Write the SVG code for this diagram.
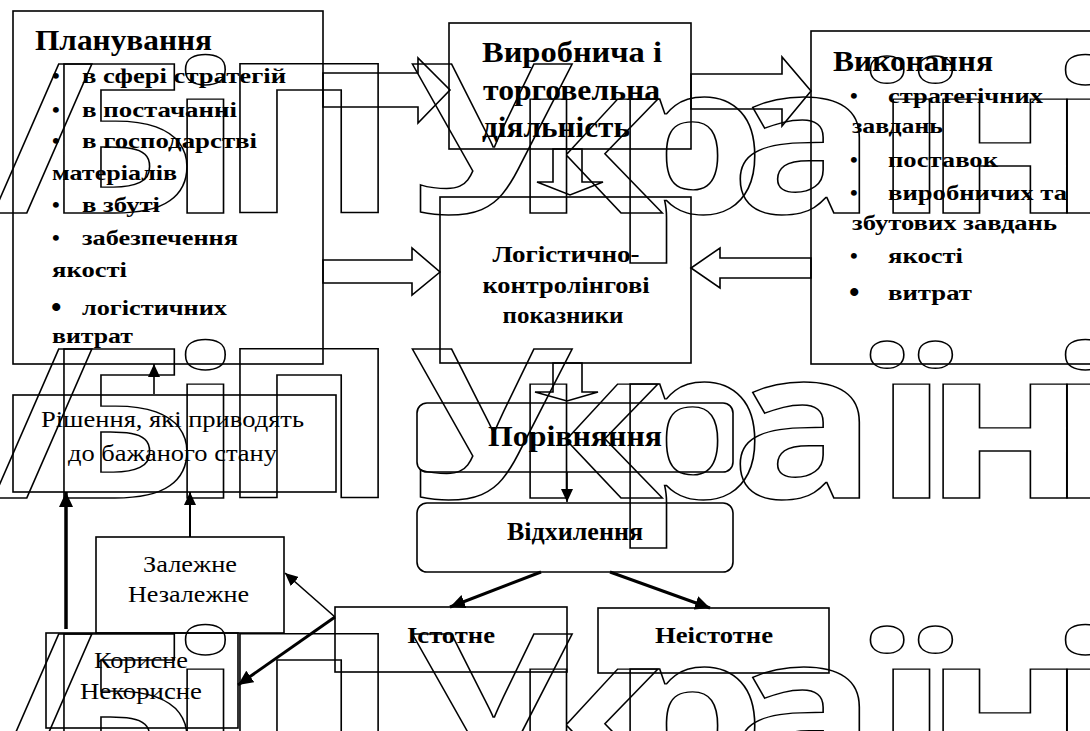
<svg xmlns="http://www.w3.org/2000/svg" width="1090" height="731" viewBox="0 0 1090 731">
<style>
.box{fill:none;stroke:#000;stroke-width:1.6}
.blk{fill:none;stroke:#000;stroke-width:1.6;stroke-linejoin:miter}
.b{font-family:"Liberation Serif","Times New Roman",serif;font-weight:bold;fill:#000}
.r{font-family:"Liberation Serif","Times New Roman",serif;fill:#000}
.wm{font-family:"Open Sans","DejaVu Sans",sans-serif;font-weight:700;font-size:209px;fill:none;stroke:#000;stroke-width:1.4}
.ln{stroke:#000;fill:none}
</style>
<defs>
<marker id="ah" markerUnits="userSpaceOnUse" markerWidth="16" markerHeight="14" refX="15" refY="7" orient="auto"><path d="M0,0 L15,7 L0,14 Z" fill="#000"/></marker>
<marker id="ahs" markerUnits="userSpaceOnUse" markerWidth="14" markerHeight="12" refX="13" refY="6" orient="auto"><path d="M0,0 L13,6 L0,12 Z" fill="#000"/></marker>
</defs>
<rect width="1090" height="731" fill="#fff"/>
<g id="watermark" transform="scale(1.17 1)">
<text class="wm" x="-6.8 35.9 143.6 186.3 307.7 350.4 436.8 522.2 623.9 747 789.7 895.7" y="213">/БіП Україні</text>
<text class="wm" x="-6.8 35.9 143.6 186.3 307.7 350.4 436.8 522.2 623.9 747 789.7 895.7" y="498">/БіП Україні</text>
<text class="wm" x="-6.8 35.9 143.6 186.3 307.7 350.4 436.8 522.2 623.9 747 789.7 895.7" y="783">/БіП Україні</text>
</g>
<g id="connectors">
<polygon class="blk" points="323,73 418,73 418,58 450,90 418,123 418,107 323,107"/>
<polygon class="blk" points="691,74 782,74 782,57 811,91 782,126 782,109 691,109"/>
<polygon class="blk" points="323,260 412,260 412,248 440,272 412,295 412,283 323,283"/>
<polygon class="blk" points="811,258 720,258 720,248 691,268 720,288 720,278 811,278"/>
<polygon class="blk" points="553,149 553,182 537,182 570,195 603,182 582,182 582,149"/>
<polygon class="blk" points="553,363 553,392 535,392 567,401 598,392 582,392 582,363"/>
<line class="ln" x1="567" y1="472" x2="567" y2="502" stroke-width="1.6" marker-end="url(#ahs)"/>
<line class="ln" x1="541" y1="572" x2="450" y2="607" stroke-width="3" marker-end="url(#ah)"/>
<line class="ln" x1="610" y1="572" x2="710" y2="608" stroke-width="3" marker-end="url(#ah)"/>
<line class="ln" x1="154" y1="394" x2="154" y2="364" stroke-width="1.6" marker-end="url(#ahs)"/>
<line class="ln" x1="190" y1="537" x2="190" y2="492" stroke-width="2" marker-end="url(#ahs)"/>
<line class="ln" x1="66" y1="629" x2="66" y2="492" stroke-width="3.5" marker-end="url(#ah)"/>
<line class="ln" x1="335" y1="617" x2="285" y2="573" stroke-width="1.6" marker-end="url(#ahs)"/>
<line class="ln" x1="335" y1="617" x2="238" y2="685" stroke-width="3" marker-end="url(#ah)"/>
</g>
<g id="planning">
<rect class="box" x="13" y="11" width="310" height="353"/>
<text class="b" x="35" y="50" font-size="29" textLength="177" lengthAdjust="spacingAndGlyphs">Планування</text>
<g font-size="22">
<text class="b" x="52" y="83">•</text><text class="b" x="82" y="83" textLength="204" lengthAdjust="spacingAndGlyphs">в сфері стратегій</text>
<text class="b" x="52" y="117">•</text><text class="b" x="82" y="117" textLength="155" lengthAdjust="spacingAndGlyphs">в постачанні</text>
<text class="b" x="52" y="148">•</text><text class="b" x="82" y="148" textLength="175" lengthAdjust="spacingAndGlyphs">в господарстві</text>
<text class="b" x="52" y="180" textLength="125" lengthAdjust="spacingAndGlyphs">матеріалів</text>
<text class="b" x="52" y="212">•</text><text class="b" x="82" y="212" textLength="78" lengthAdjust="spacingAndGlyphs">в збуті</text>
<text class="b" x="52" y="245">•</text><text class="b" x="82" y="245" textLength="156" lengthAdjust="spacingAndGlyphs">забезпечення</text>
<text class="b" x="52" y="277" textLength="75" lengthAdjust="spacingAndGlyphs">якості</text>
<text class="b" x="51" y="317" font-size="30">•</text><text class="b" x="82" y="315" textLength="145" lengthAdjust="spacingAndGlyphs">логістичних</text>
<text class="b" x="52" y="343" textLength="81" lengthAdjust="spacingAndGlyphs">витрат</text>
</g>
</g>
<g id="production">
<rect class="box" x="449" y="23" width="242" height="126"/>
<g class="b" font-size="29">
<text x="482" y="62" textLength="180" lengthAdjust="spacingAndGlyphs">Виробнича і</text>
<text x="483" y="100" textLength="177" lengthAdjust="spacingAndGlyphs">торговельна</text>
<text x="482" y="137" textLength="148" lengthAdjust="spacingAndGlyphs">діяльність</text>
</g>
</g>
<g id="execution">
<rect class="box" x="811" y="31" width="290" height="333"/>
<text class="b" x="833" y="71" font-size="29" textLength="160" lengthAdjust="spacingAndGlyphs">Виконання</text>
<g font-size="22">
<text class="b" x="850" y="103">•</text><text class="b" x="888" y="103" textLength="155" lengthAdjust="spacingAndGlyphs">стратегічних</text>
<text class="b" x="852" y="133" textLength="91" lengthAdjust="spacingAndGlyphs">завдань</text>
<text class="b" x="850" y="167">•</text><text class="b" x="888" y="167" textLength="110" lengthAdjust="spacingAndGlyphs">поставок</text>
<text class="b" x="850" y="200">•</text><text class="b" x="888" y="200" textLength="179" lengthAdjust="spacingAndGlyphs">виробничих та</text>
<text class="b" x="852" y="230" textLength="205" lengthAdjust="spacingAndGlyphs">збутових завдань</text>
<text class="b" x="850" y="263">•</text><text class="b" x="888" y="263" textLength="75" lengthAdjust="spacingAndGlyphs">якості</text>
<text class="b" x="849" y="302" font-size="30">•</text><text class="b" x="888" y="300" textLength="84" lengthAdjust="spacingAndGlyphs">витрат</text>
</g>
</g>
<g id="indicators">
<rect class="box" x="440" y="197" width="251" height="166"/>
<g class="b" font-size="24" text-anchor="middle">
<text x="566" y="262" textLength="147" lengthAdjust="spacingAndGlyphs">Логістично-</text>
<text x="566" y="293" textLength="167" lengthAdjust="spacingAndGlyphs">контролінгові</text>
<text x="563" y="323" textLength="121" lengthAdjust="spacingAndGlyphs">показники</text>
</g>
</g>
<g id="comparison">
<rect class="box" x="417" y="403" width="316" height="69" rx="10"/>
<text class="b" x="575" y="446" font-size="29" text-anchor="middle" textLength="174" lengthAdjust="spacingAndGlyphs">Порівняння</text>
</g>
<g id="deviation">
<rect class="box" x="417" y="503" width="316" height="69" rx="10"/>
<text class="b" x="575" y="540" font-size="25" text-anchor="middle" textLength="136" lengthAdjust="spacingAndGlyphs">Відхилення</text>
</g>
<g id="essential">
<rect class="box" x="335" y="607" width="232" height="65"/>
<text class="b" x="451" y="643" font-size="24" text-anchor="middle" textLength="88" lengthAdjust="spacingAndGlyphs">Істотне</text>
</g>
<g id="nonessential">
<rect class="box" x="598" y="608" width="231" height="65"/>
<text class="b" x="714" y="643" font-size="24" text-anchor="middle" textLength="118" lengthAdjust="spacingAndGlyphs">Неістотне</text>
</g>
<g id="decisions">
<rect class="box" x="13" y="395" width="323" height="97"/>
<g class="r" font-size="23" text-anchor="middle">
<text x="172.5" y="427" textLength="263" lengthAdjust="spacingAndGlyphs">Рішення, які приводять</text>
<text x="172.5" y="461" textLength="209" lengthAdjust="spacingAndGlyphs">до бажаного стану</text>
</g>
</g>
<g id="dependent">
<rect class="box" x="96" y="537" width="188" height="96"/>
<g class="r" font-size="23" text-anchor="middle">
<text x="190" y="572" textLength="94" lengthAdjust="spacingAndGlyphs">Залежне</text>
<text x="188.5" y="602" textLength="121" lengthAdjust="spacingAndGlyphs">Незалежне</text>
</g>
</g>
<g id="useful">
<rect class="box" x="46" y="633" width="192" height="95" stroke-width="2"/>
<g class="r" font-size="23" text-anchor="middle">
<text x="141" y="668" textLength="94" lengthAdjust="spacingAndGlyphs">Корисне</text>
<text x="141" y="699" textLength="122" lengthAdjust="spacingAndGlyphs">Некорисне</text>
</g>
</g>
</svg>
